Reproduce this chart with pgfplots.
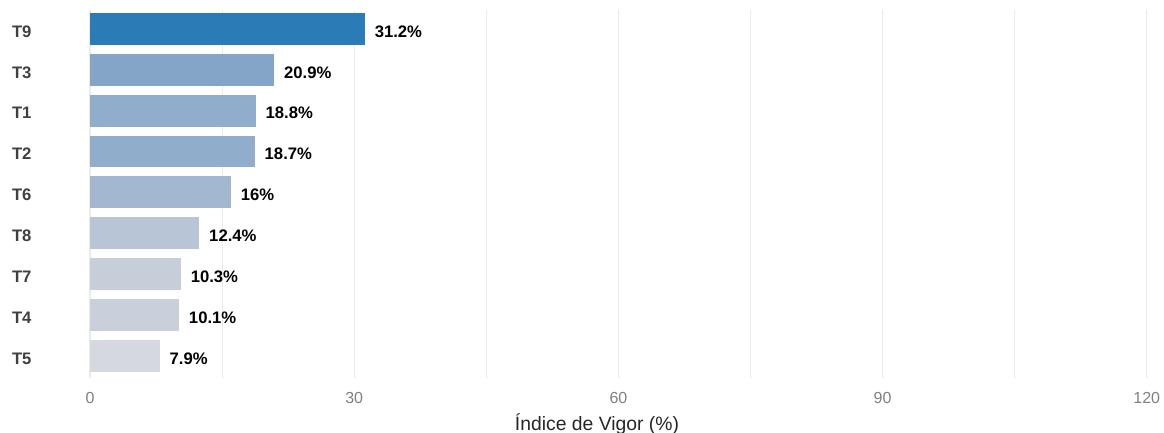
\documentclass[border=0pt]{standalone}
\usepackage{pgfplots}
\pgfplotsset{compat=1.18}
\usepackage{fontspec}
\setmainfont{Liberation Sans}
\definecolor{c9}{HTML}{2B7BB6}
\definecolor{c3}{HTML}{84A5C8}
\definecolor{c1}{HTML}{90ADCC}
\definecolor{c2}{HTML}{91ADCC}
\definecolor{c6}{HTML}{A3B7D1}
\definecolor{c8}{HTML}{B8C5D7}
\definecolor{c7}{HTML}{C6CEDA}
\definecolor{c4}{HTML}{C9D0DB}
\definecolor{c5}{HTML}{D5D8DE}
\definecolor{gridc}{HTML}{EBEBEB}
\begin{document}
\begin{tikzpicture}
\begin{axis}[
  scale only axis,
  width=802.5pt, height=276pt,
  xbar, bar width=0.78, bar shift=0pt,
  xmin=0, xmax=121.5,
  ymin=-0.54, ymax=8.46,
  axis line style={draw=none},
  major tick length=0pt, minor tick length=0pt,
  xtick={0,30,60,90,120},
  minor xtick={15,45,75,105},
  xmajorgrids, xminorgrids,
  major grid style={gridc, line width=0.8pt},
  minor grid style={gridc, line width=0.8pt},
  ytick={0,...,8},
  yticklabels={T5,T4,T7,T8,T6,T2,T1,T3,T9},
  yticklabel style={font=\fontsize{12.5}{12.5}\selectfont\bfseries, text=black!75, anchor=west, xshift=-62pt, yshift=-2pt},
  xticklabel style={font=\fontsize{12}{12}\selectfont, text=black!50, yshift=-7pt},
  /pgf/number format/assume math mode=true,
  xlabel={Índice de Vigor (\%)},
  xlabel style={font=\fontsize{14.5}{14.5}\selectfont, text=black!85, yshift=-1pt, xshift=-21pt},
  point meta=explicit symbolic,
  nodes near coords,
  nodes near coords style={font=\fontsize{12.5}{12.5}\selectfont\bfseries, text=black, anchor=west, xshift=4pt, yshift=-2pt},
  every axis plot/.append style={draw=none},
]
\addplot[fill=c5] coordinates {(7.9,0) [7.9\%]};
\addplot[fill=c4] coordinates {(10.1,1) [10.1\%]};
\addplot[fill=c7] coordinates {(10.3,2) [10.3\%]};
\addplot[fill=c8] coordinates {(12.4,3) [12.4\%]};
\addplot[fill=c6] coordinates {(16,4) [16\%]};
\addplot[fill=c2] coordinates {(18.7,5) [18.7\%]};
\addplot[fill=c1] coordinates {(18.8,6) [18.8\%]};
\addplot[fill=c3] coordinates {(20.9,7) [20.9\%]};
\addplot[fill=c9] coordinates {(31.2,8) [31.2\%]};
\coordinate (SW) at (rel axis cs:0,0);
\coordinate (NE) at (rel axis cs:1,1);
\end{axis}
\pgfresetboundingbox
\path ([shift={(-67.5pt,-41.25pt)}]SW) rectangle ([shift={(3pt,7.5pt)}]NE);
\end{tikzpicture}
\end{document}
